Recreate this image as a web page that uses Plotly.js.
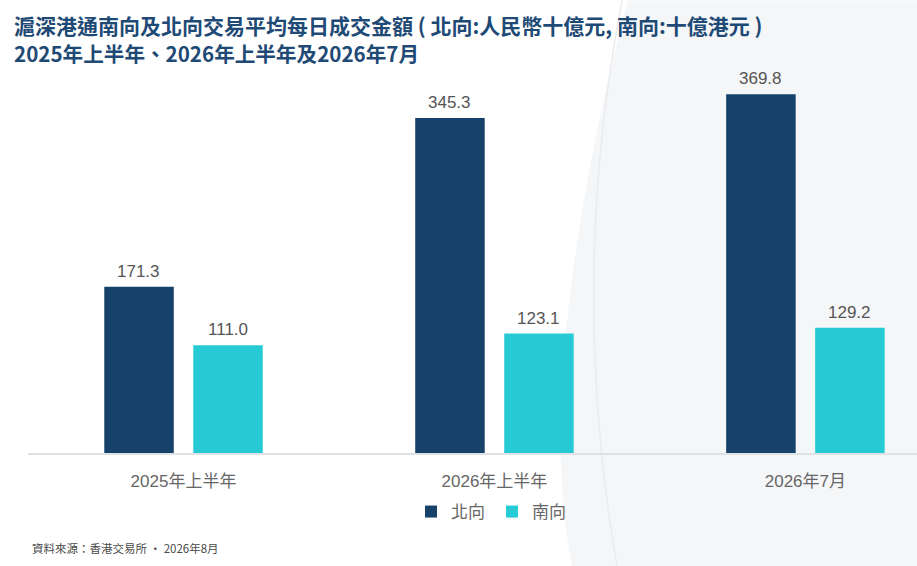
<!DOCTYPE html>
<html>
<head>
<meta charset="utf-8">
<script src="https://cdn.plot.ly/plotly-3.0.1.min.js"></script>
<style>
  html, body { margin: 0; padding: 0; background: #ffffff; }
  #chart { width: 917px; height: 566px; }
</style>
</head>
<body>
<div id="chart"></div>
<script>
// ---- data ----
const categories = ['2025年上半年', '2026年上半年', '2026年7月'];
const northbound = [171.3, 345.3, 369.8];
const southbound = [111.0, 123.1, 129.2];
const seriesNames = ['北向', '南向'];
const titleLine1 = '滬深港通南向及北向交易平均每日成交金額 ( 北向:人民幣十億元, 南向:十億港元 )';
const titleLine2 = '2025年上半年、2026年上半年及2026年7月';
const sourceText = '資料來源：香港交易所 · 2026年8月';

// ---- layout constants ----
const W = 917, H = 566;
const M = { l: 28, r: 0, t: 66.6, b: 113 };
const plotW = W - M.l - M.r, plotH = H - M.t - M.b;
const px = x => (x - M.l) / plotW;
const py = y => (H - M.b - y) / plotH;

const darkBlue = '#15416a';
const teal = '#26cad4';
const titleColor = '#1e4a75';
const latin = 'Liberation Sans, Arial, Noto Sans CJK TC, sans-serif';
const cjk = 'Noto Sans CJK TC, Noto Sans CJK SC, sans-serif';

const barW = 0.2235;
const traces = [
  {
    type: 'bar', name: seriesNames[0], x: categories, y: northbound,
    width: barW, offset: -0.2547,
    marker: { color: darkBlue, line: { width: 0 } },
    hoverinfo: 'none'
  },
  {
    type: 'bar', name: seriesNames[1], x: categories, y: southbound,
    width: barW, offset: 0.0315,
    marker: { color: teal, line: { width: 0 } },
    hoverinfo: 'none'
  }
];

const annotations = [];
[northbound, southbound].forEach((vals, s) => {
  vals.forEach((v, i) => {
    annotations.push({
      x: categories[i], y: v, xref: 'x', yref: 'y',
      xshift: s === 0 ? -44.5 : 44.5, yshift: 4,
      yanchor: 'bottom', xanchor: 'center',
      text: v.toFixed(1), showarrow: false,
      font: { family: latin, size: 17, color: '#555555' }
    });
  });
});
// title lines
annotations.push({
  xref: 'paper', yref: 'paper', x: px(12), y: py(25),
  xanchor: 'left', yanchor: 'middle', showarrow: false,
  text: titleLine1,
  font: { family: cjk, size: 21, color: titleColor, weight: 'bold' }
});
annotations.push({
  xref: 'paper', yref: 'paper', x: px(12), y: py(52.5),
  xanchor: 'left', yanchor: 'middle', showarrow: false,
  text: titleLine2,
  font: { family: cjk, size: 20.6, color: titleColor, weight: 'bold' }
});
// source
annotations.push({
  xref: 'paper', yref: 'paper', x: px(30), y: py(548),
  xanchor: 'left', yanchor: 'middle', showarrow: false,
  text: sourceText,
  font: { family: cjk, size: 11.5, color: '#4a4a4a' }
});

// decorative background arc (pixel points converted to paper coords)
function P(x, y) { return px(x).toFixed(5) + ',' + py(y).toFixed(5); }
const fillPath = 'M' + P(628, 0) + ' C' + P(588, 150) + ' ' + P(538, 400) + ' ' + P(572, 566) +
  ' L' + P(917, 566) + ' L' + P(917, 0) + ' Z';
const linePath = 'M' + P(622, 0) + ' Q' + P(568, 283) + ' ' + P(617, 566);

const layout = {
  width: W, height: H,
  margin: M,
  paper_bgcolor: '#ffffff',
  plot_bgcolor: 'rgba(0,0,0,0)',
  font: { family: latin, color: '#666666' },
  barmode: 'group',
  showlegend: true,
  legend: {
    orientation: 'h',
    xref: 'container', yref: 'container',
    x: 492 / W, xanchor: 'center',
    y: 1 - 512 / H, yanchor: 'middle',
    font: { family: latin, size: 17, color: '#666666' },
    bgcolor: 'rgba(0,0,0,0)',
    entrywidth: 36, entrywidthmode: 'pixels',
    itemwidth: 30,
    itemclick: false, itemdoubleclick: false
  },
  xaxis: {
    type: 'category',
    range: [-0.5, 2.359],
    showgrid: false, zeroline: false,
    showline: true, linecolor: '#dfe1e4', linewidth: 2,
    ticks: '',
    tickfont: { family: latin, size: 17, color: '#666666' },
    ticklabelstandoff: 12,
    fixedrange: true
  },
  yaxis: {
    range: [0, 398],
    visible: false, showgrid: false, zeroline: false,
    fixedrange: true
  },
  shapes: [
    { type: 'path', xref: 'paper', yref: 'paper', path: fillPath,
      fillcolor: '#f5f6f8', line: { width: 0 }, layer: 'below' },
    { type: 'path', xref: 'paper', yref: 'paper', path: linePath,
      line: { color: '#e9ebef', width: 1.5 }, layer: 'below' }
  ],
  annotations: annotations
};

Plotly.newPlot('chart', traces, layout, { displayModeBar: false, staticPlot: true });
</script>
</body>
</html>
